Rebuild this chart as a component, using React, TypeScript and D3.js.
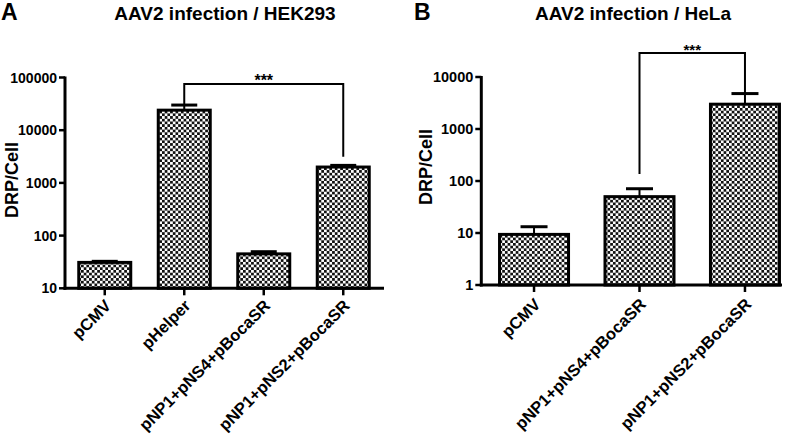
import React from "react";
import * as d3 from "d3";

// Panel A data
const categoriesA = ["pCMV", "pHelper", "pNP1+pNS4+pBocaSR", "pNP1+pNS2+pBocaSR"];
const meansA = [31, 24000, 45, 2000];
const errorsA = [1.5, 6000, 4.5, 150];
const ticksA = [10, 100, 1000, 10000, 100000];

// Panel B data
const categoriesB = ["pCMV", "pNP1+pNS4+pBocaSR", "pNP1+pNS2+pBocaSR"];
const meansB = [9.4, 50, 3000];
const errorsB = [3.8, 21, 1800];
const ticksB = [1, 10, 100, 1000, 10000];

const FONT = "'Liberation Sans', Arial, Helvetica, sans-serif";

type PanelProps = {
  letter: string;
  title: string;
  cats: string[];
  means: number[];
  errs: number[];
  ticks: number[];
  domain: [number, number];
  yRange: [number, number];
  xRange: [number, number];
  axisEnd: number;
  barW: number;
  capW: number;
  letterX: number;
  titleX: number;
  ylabX: number;
  ylabY: number;
  labOff: [number, number];
  labFont: number;
  bracket: { a: number; b: number; level: number; leftEnd: number; rightEnd: number };
  starSize: number;
  tickFont: number;
};

function Panel(p: PanelProps) {
  const y = d3.scaleLog().domain(p.domain).range(p.yRange);
  const x = d3.scalePoint<string>().domain(p.cats).range(p.xRange).padding(0.5);
  const x0 = p.xRange[0];
  const yBase = p.yRange[0];
  const yTop = p.yRange[1];
  const br = p.bracket;
  const bxA = x(p.cats[br.a])!;
  const bxB = x(p.cats[br.b])!;
  const by = y(br.level);
  return (
    <g>
      <text x={p.letterX} y={20} fontFamily={FONT} fontWeight="bold" fontSize={23}>{p.letter}</text>
      <text x={p.titleX} y={20} fontFamily={FONT} fontWeight="bold" fontSize={19} textAnchor="middle">{p.title}</text>
      <text transform={`translate(${p.ylabX},${p.ylabY}) rotate(-90)`} fontFamily={FONT} fontWeight="bold" fontSize={18} textAnchor="middle">DRP/Cell</text>
      {/* bars */}
      {p.cats.map((c, i) => {
        const cx = x(c)!;
        const top = y(p.means[i]);
        const cap = y(p.means[i] + p.errs[i]);
        return (
          <g key={c}>
            <line x1={cx} x2={cx} y1={top} y2={cap} stroke="#000" strokeWidth={2} />
            <line x1={cx - p.capW / 2} x2={cx + p.capW / 2} y1={cap} y2={cap} stroke="#000" strokeWidth={3} />
            <rect x={cx - p.barW / 2} y={top} width={p.barW} height={yBase - top} fill="url(#checker)" stroke="#000" strokeWidth={3} />
          </g>
        );
      })}
      {/* axes */}
      <line x1={x0} x2={x0} y1={yTop - 1} y2={yBase + 1.5} stroke="#000" strokeWidth={3} />
      <line x1={x0 - 1.5} x2={p.axisEnd} y1={yBase} y2={yBase} stroke="#000" strokeWidth={3} />
      {p.ticks.map((t) => (
        <g key={t}>
          <line x1={x0 - 6} x2={x0} y1={y(t)} y2={y(t)} stroke="#000" strokeWidth={2.5} />
          <text x={x0 - 8} y={y(t)} dy="0.36em" textAnchor="end" fontFamily={FONT} fontWeight="bold" fontSize={p.tickFont}>{t}</text>
        </g>
      ))}
      {p.cats.map((c) => (
        <g key={"t" + c}>
          <line x1={x(c)!} x2={x(c)!} y1={yBase} y2={yBase + 7} stroke="#000" strokeWidth={2.5} />
          <text transform={`translate(${x(c)! + p.labOff[0]},${yBase + p.labOff[1]}) rotate(-45)`} dy="0.72em" textAnchor="end" fontFamily={FONT} fontWeight="bold" fontSize={p.labFont}>{c}</text>
        </g>
      ))}
      {/* significance bracket */}
      <path d={`M${bxA},${y(br.leftEnd)} V${by} H${bxB} V${y(br.rightEnd)}`} fill="none" stroke="#000" strokeWidth={2} />
      <text x={(bxA + bxB) / 2} y={by - 3} textAnchor="middle" fontFamily={FONT} fontWeight="bold" fontSize={p.starSize} dy="0.3em">***</text>
    </g>
  );
}

export default function App() {
  return (
    <svg width={800} height={434} style={{ position: "absolute", left: 0, top: 0, background: "#fff" }}>
      <defs>
        <pattern id="checker" patternUnits="userSpaceOnUse" width={5.4} height={5.4}>
          <rect width={5.4} height={5.4} fill="#fff" />
          <rect x={0} y={0} width={2.7} height={2.7} fill="#111" />
          <rect x={2.7} y={2.7} width={2.7} height={2.7} fill="#111" />
        </pattern>
      </defs>
      <Panel
        letter="A"
        title="AAV2 infection / HEK293"
        cats={categoriesA}
        means={meansA}
        errs={errorsA}
        ticks={ticksA}
        domain={[10, 100000]}
        yRange={[288.3, 77.5]}
        xRange={[65, 383]}
        axisEnd={384}
        barW={52}
        capW={26}
        letterX={1}
        titleX={225}
        ylabX={18}
        ylabY={180}
        labOff={[-1, 10]}
        labFont={16.5}
        bracket={{ a: 1, b: 3, level: 75300, leftEnd: 30000, rightEnd: 3140 }}
        starSize={16}
        tickFont={14}
      />
      <Panel
        letter="B"
        title="AAV2 infection / HeLa"
        cats={categoriesB}
        means={meansB}
        errs={errorsB}
        ticks={ticksB}
        domain={[1, 10000]}
        yRange={[285, 77]}
        xRange={[481.3, 797.7]}
        axisEnd={782}
        barW={69}
        capW={27}
        letterX={414}
        titleX={633}
        ylabX={432}
        ylabY={167}
        labOff={[-1, 12]}
        labFont={16.5}
        bracket={{ a: 1, b: 2, level: 28900, leftEnd: 136, rightEnd: 4800 }}
        starSize={15}
        tickFont={14.5}
      />
    </svg>
  );
}
